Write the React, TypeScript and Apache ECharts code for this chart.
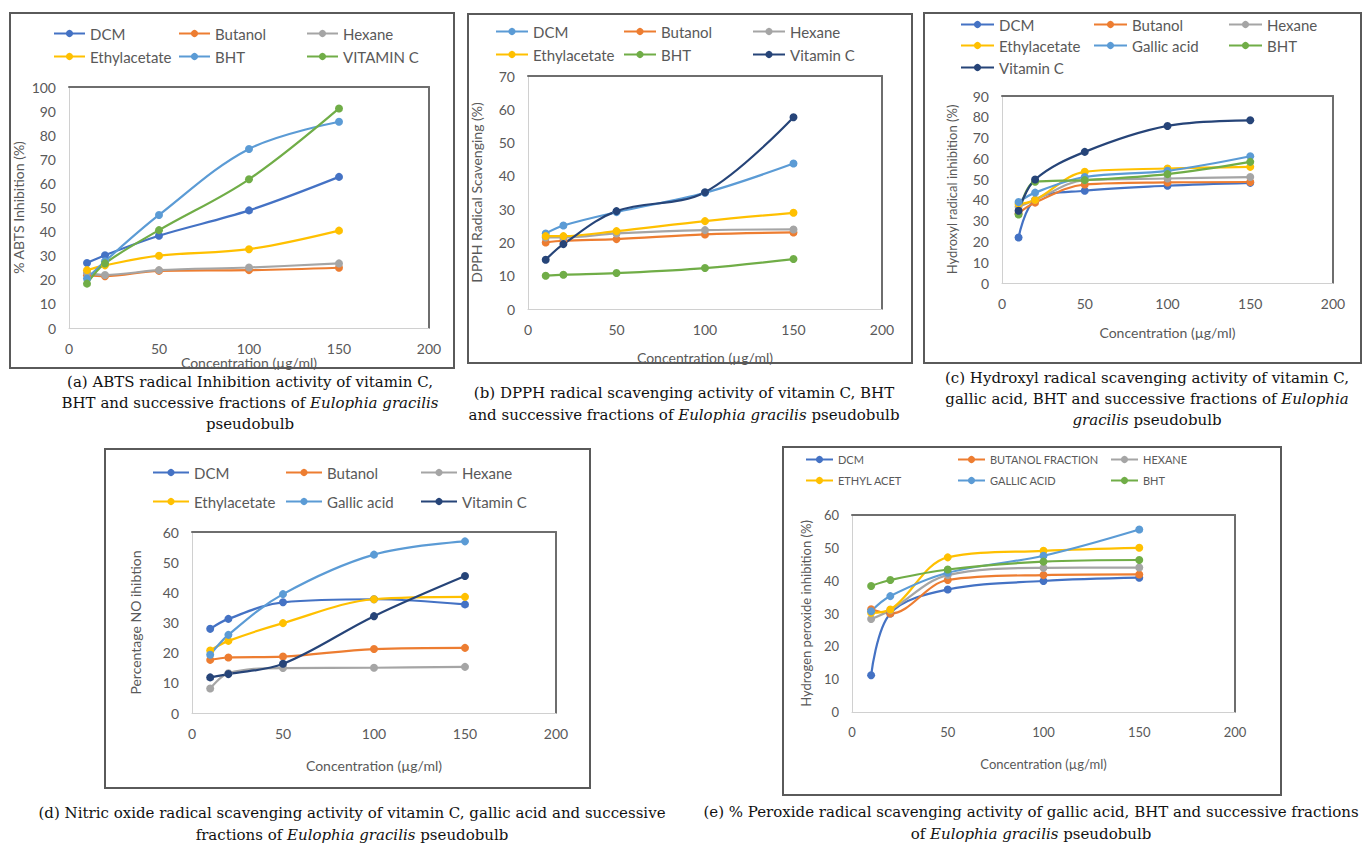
import React, { useEffect, useRef } from "react";
import * as echarts from "echarts";

// ---------- data ----------
const conc = [10, 20, 50, 100, 150];

// (a) ABTS
const abtsDCM = [27, 30.2, 38.3, 48.8, 62.7];
const abtsButanol = [21.9, 21.5, 23.7, 24, 25];
const abtsHexane = [22.9, 22, 24, 25.1, 26.8];
const abtsEthyl = [24, 26, 30, 32.7, 40.4];
const abtsBHT = [20.5, 27.7, 46.9, 74.3, 85.6];
const abtsVitC = [18.4, 26.8, 40.6, 61.7, 91.1];

// (b) DPPH
const dpphDCM = [22.7, 25.1, 29.1, 34.9, 43.7];
const dpphButanol = [20, 20.5, 21, 22.4, 23];
const dpphHexane = [21.5, 21.5, 22.7, 23.7, 23.9];
const dpphEthyl = [21.9, 21.9, 23.4, 26.4, 28.9];
const dpphBHT = [10, 10.3, 10.8, 12.3, 15];
const dpphVitC = [14.8, 19.5, 29.4, 35.1, 57.6];

// (c) Hydroxyl
const ohDCM = [21.9, 40, 44.4, 46.8, 48.2];
const ohButanol = [33.5, 38.7, 47.4, 48.4, 48.6];
const ohHexane = [36.7, 40, 49.5, 50.3, 51];
const ohEthyl = [38, 40, 53.5, 55.1, 55.9];
const ohGallic = [39, 43.5, 51, 54, 61];
const ohBHT = [33, 48.7, 49.5, 52.4, 58.3];
const ohVitC = [34.8, 49.8, 63.1, 75.6, 78.3];

// (d) Nitric oxide
const noDCM = [27.9, 31.2, 36.7, 37.7, 36];
const noButanol = [17.6, 18.4, 18.7, 21.2, 21.6];
const noHexane = [8.1, 13.2, 14.9, 15, 15.3];
const noEthyl = [20.7, 23.9, 29.8, 37.7, 38.5];
const noGallic = [19.3, 25.9, 39.4, 52.5, 56.9];
const noVitC = [11.8, 12.9, 16.3, 32.1, 45.4];

// (e) Hydrogen peroxide
const hpDCM = [11.2, 30, 37.3, 39.9, 40.9];
const hpButanol = [31.3, 30, 40.2, 41.7, 41.9];
const hpHexane = [28.3, 31, 41.7, 43.9, 44];
const hpEthyl = [30.2, 31.2, 47.1, 49.1, 50];
const hpGallic = [30.7, 35.3, 42.4, 47.6, 55.6];
const hpBHT = [38.4, 40.2, 43.4, 45.8, 46.3];

const xTitle = "Concentration (µg/ml)";

const captionA = [
  "(a) ABTS radical Inhibition activity of vitamin C,",
  "BHT and successive fractions of {i|Eulophia gracilis}",
  "pseudobulb",
];
const captionB = [
  "(b) DPPH radical scavenging activity of vitamin C, BHT",
  "and successive fractions of {i|Eulophia gracilis} pseudobulb",
];
const captionC = [
  "(c) Hydroxyl radical scavenging activity of vitamin C,",
  "gallic acid, BHT and successive fractions of {i|Eulophia}",
  "{i|gracilis} pseudobulb",
];
const captionD = [
  "(d) Nitric oxide radical scavenging activity of vitamin C, gallic acid and successive",
  "fractions of {i|Eulophia gracilis} pseudobulb",
];
const captionE = [
  "(e) % Peroxide radical scavenging activity of gallic acid, BHT and successive fractions",
  "of {i|Eulophia gracilis} pseudobulb",
];

// ---------- styles ----------
const BLUE = "#4472C4";
const ORANGE = "#ED7D31";
const GRAY = "#A5A5A5";
const YELLOW = "#FFC000";
const LBLUE = "#5B9BD5";
const GREEN = "#70AD47";
const NAVY = "#264478";

const FONT = "Lato, 'Liberation Sans', sans-serif";
const SERIF = "'DejaVu Serif', 'Liberation Serif', serif";
const CAP_SIZE = 15;
const TXT = "#595959";

type S = { name: string; color: string; values: number[] };
type Panel = {
  box: [number, number, number, number];
  grid: [number, number, number, number];
  yMax: number;
  yName: string;
  yNameGap: number;
  yNameSize: number;
  xNameGap: number;
  labelSize: number;
  legendCols: number[];
  legendRows: number[];
  legendIconW: number;
  legendFont: number;
  series: S[];
  capX: number;
  capYs: number[];
  caption: string[];
};

const panels: Panel[] = [
  {
    box: [10, 13, 444, 355],
    grid: [69, 87, 429, 328],
    yMax: 100,
    yName: "% ABTS Inhibition (%)",
    yNameGap: 44,
    yNameSize: 14,
    xNameGap: 27,
    labelSize: 14,
    legendCols: [53, 178, 306],
    legendRows: [34, 57],
    legendIconW: 31,
    legendFont: 15,
    series: [
      { name: "DCM", color: BLUE, values: abtsDCM },
      { name: "Butanol", color: ORANGE, values: abtsButanol },
      { name: "Hexane", color: GRAY, values: abtsHexane },
      { name: "Ethylacetate", color: YELLOW, values: abtsEthyl },
      { name: "BHT", color: LBLUE, values: abtsBHT },
      { name: "VITAMIN C", color: GREEN, values: abtsVitC },
    ],
    capX: 250,
    capYs: [382, 403, 424],
    caption: captionA,
  },
  {
    box: [468, 14, 444, 349],
    grid: [528, 76, 882, 309],
    yMax: 70,
    yName: "DPPH Radical Scavenging (%)",
    yNameGap: 45,
    yNameSize: 14,
    xNameGap: 41,
    labelSize: 14,
    legendCols: [495, 623, 752],
    legendRows: [32, 55],
    legendIconW: 32,
    legendFont: 15,
    series: [
      { name: "DCM", color: LBLUE, values: dpphDCM },
      { name: "Butanol", color: ORANGE, values: dpphButanol },
      { name: "Hexane", color: GRAY, values: dpphHexane },
      { name: "Ethylacetate", color: YELLOW, values: dpphEthyl },
      { name: "BHT", color: GREEN, values: dpphBHT },
      { name: "Vitamin C", color: NAVY, values: dpphVitC },
    ],
    capX: 684,
    capYs: [393, 415],
    caption: captionB,
  },
  {
    box: [924, 13, 437, 350],
    grid: [1002, 96, 1333, 283],
    yMax: 90,
    yName: "Hydroxyl radical inhibition (%)",
    yNameGap: 44,
    yNameSize: 13,
    xNameGap: 42,
    labelSize: 14,
    legendCols: [960, 1093, 1228],
    legendRows: [25, 46, 68],
    legendIconW: 33,
    legendFont: 15,
    series: [
      { name: "DCM", color: BLUE, values: ohDCM },
      { name: "Butanol", color: ORANGE, values: ohButanol },
      { name: "Hexane", color: GRAY, values: ohHexane },
      { name: "Ethylacetate", color: YELLOW, values: ohEthyl },
      { name: "Gallic acid", color: LBLUE, values: ohGallic },
      { name: "BHT", color: GREEN, values: ohBHT },
      { name: "Vitamin C", color: NAVY, values: ohVitC },
    ],
    capX: 1147,
    capYs: [378, 399, 420],
    caption: captionC,
  },
  {
    box: [105, 449, 485, 339],
    grid: [192, 532, 556, 713],
    yMax: 60,
    yName: "Percentage NO ihibtion",
    yNameGap: 50,
    yNameSize: 14,
    xNameGap: 45,
    labelSize: 14,
    legendCols: [152, 285, 420],
    legendRows: [473, 502],
    legendIconW: 36,
    legendFont: 15,
    series: [
      { name: "DCM", color: BLUE, values: noDCM },
      { name: "Butanol", color: ORANGE, values: noButanol },
      { name: "Hexane", color: GRAY, values: noHexane },
      { name: "Ethylacetate", color: YELLOW, values: noEthyl },
      { name: "Gallic acid", color: LBLUE, values: noGallic },
      { name: "Vitamin C", color: NAVY, values: noVitC },
    ],
    capX: 352,
    capYs: [813, 835],
    caption: captionD,
  },
  {
    box: [783, 447, 498, 348],
    grid: [852, 515, 1235, 712],
    yMax: 60,
    yName: "Hydrogen peroxide inhibition (%)",
    yNameGap: 40,
    yNameSize: 13,
    xNameGap: 45,
    labelSize: 13,
    legendCols: [805, 957, 1110],
    legendRows: [462, 483],
    legendIconW: 27,
    legendFont: 11,
    series: [
      { name: "DCM", color: BLUE, values: hpDCM },
      { name: "BUTANOL FRACTION", color: ORANGE, values: hpButanol },
      { name: "HEXANE", color: GRAY, values: hpHexane },
      { name: "ETHYL ACET", color: YELLOW, values: hpEthyl },
      { name: "GALLIC ACID", color: LBLUE, values: hpGallic },
      { name: "BHT", color: GREEN, values: hpBHT },
    ],
    capX: 1031,
    capYs: [812, 834],
    caption: captionE,
  },
];

function buildOption(p: Panel): any {
  const [gl, gt, gr, gb] = p.grid;
  const legends = p.series.map((s, i) => ({
    left: p.legendCols[i % 3],
    top: p.legendRows[Math.floor(i / 3)] - 8,
    padding: 0,
    itemWidth: p.legendIconW,
    itemHeight: 9,
    selectedMode: false,
    data: [s.name],
    textStyle: { color: TXT, fontSize: p.legendFont, fontFamily: FONT },
  }));
  const hidden = {
    axisTick: { show: false },
    axisLabel: { show: false },
    splitLine: { show: false },
  };
  const graphics: any[] = [
    {
      type: "rect",
      shape: { x: p.box[0], y: p.box[1], width: p.box[2], height: p.box[3] },
      style: { fill: "none", stroke: "#5a5a5a", lineWidth: 2 },
      silent: true,
    },
    ...p.caption.map((line, i) => ({
      type: "text",
      x: p.capX,
      y: p.capYs[i],
      silent: true,
      style: {
        text: line,
        align: "center",
        verticalAlign: "middle",
        fill: "#111",
        fontSize: CAP_SIZE,
        fontFamily: SERIF,
        rich: {
          i: { fontStyle: "italic", fontSize: CAP_SIZE, fontFamily: SERIF, fill: "#111" },
        },
      },
    })),
  ];
  return {
    animation: false,
    backgroundColor: "transparent",
    grid: {
      left: gl,
      top: gt,
      width: gr - gl,
      height: gb - gt,
      show: false,
      containLabel: false,
    },
    legend: legends,
    xAxis: [
      {
        type: "value",
        min: 0,
        max: 200,
        interval: 50,
        position: "bottom",
        name: xTitle,
        nameLocation: "middle",
        nameGap: p.xNameGap,
        nameTextStyle: { color: TXT, fontSize: p.labelSize, fontFamily: FONT },
        axisLine: { show: true, onZero: false, lineStyle: { color: "#d0d0d0", width: 1 } },
        axisTick: { show: false },
        splitLine: { show: false },
        axisLabel: { color: TXT, fontSize: p.labelSize, fontFamily: FONT, margin: 13 },
      },
      {
        type: "value",
        min: 0,
        max: 200,
        position: "top",
        axisLine: { show: true, onZero: false, lineStyle: { color: "#6e6e6e", width: 2 } },
        ...hidden,
      },
    ],
    yAxis: [
      {
        type: "value",
        min: 0,
        max: p.yMax,
        interval: 10,
        position: "left",
        name: p.yName,
        nameLocation: "middle",
        nameRotate: 90,
        nameGap: p.yNameGap,
        nameTextStyle: { color: TXT, fontSize: p.yNameSize, fontFamily: FONT },
        axisLine: { show: true, onZero: false, lineStyle: { color: "#d0d0d0", width: 1 } },
        axisTick: { show: false },
        splitLine: { show: false },
        axisLabel: { color: TXT, fontSize: p.labelSize, fontFamily: FONT, margin: 13 },
      },
      {
        type: "value",
        min: 0,
        max: p.yMax,
        position: "right",
        axisLine: { show: true, onZero: false, lineStyle: { color: "#6e6e6e", width: 2 } },
        ...hidden,
      },
    ],
    series: p.series.map((s) => ({
      type: "line",
      name: s.name,
      xAxisIndex: 0,
      yAxisIndex: 0,
      data: conc.map((c, i) => [c, s.values[i]]),
      smooth: 0.35,
      symbol: "circle",
      symbolSize: 8,
      showSymbol: true,
      itemStyle: { color: s.color },
      lineStyle: { color: s.color, width: 2.2 },
    })),
    graphic: graphics,
  };
}

function ChartLayer({ panel }: { panel: Panel }) {
  const ref = useRef<HTMLDivElement>(null);
  useEffect(() => {
    if (!ref.current) return;
    const chart = echarts.init(ref.current, undefined, { renderer: "svg" });
    chart.setOption(buildOption(panel));
    return () => chart.dispose();
  }, [panel]);
  return (
    <div
      ref={ref}
      style={{ position: "absolute", left: 0, top: 0, width: 1362, height: 843 }}
    />
  );
}

export default function App() {
  return (
    <div
      style={{
        position: "fixed",
        left: 0,
        top: 0,
        width: 1362,
        height: 843,
        background: "#ffffff",
        overflow: "hidden",
      }}
    >
      {panels.map((p, i) => (
        <ChartLayer key={i} panel={p} />
      ))}
    </div>
  );
}
